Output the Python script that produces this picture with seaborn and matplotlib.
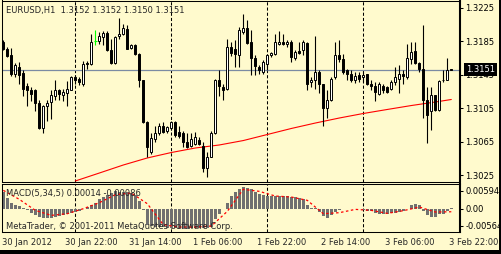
import matplotlib
matplotlib.use("Agg")
import matplotlib.pyplot as plt
import matplotlib.transforms as mtransforms
from matplotlib.patches import Rectangle
import numpy as np
import seaborn as sns

# ---------------- data ----------------
symbol_title = "EURUSD,H1  1.3152 1.3152 1.3150 1.3151"
macd_title = "MACD(5,34,5) 0.00014 -0.00086"
copyright_text = "MetaTrader, \u00a9 2001-2011 MetaQuotes Software Corp."

open_ = [1.3184, 1.3175, 1.3168, 1.3146, 1.3154, 1.3147, 1.3131, 1.3126, 1.3126, 1.3111,
         1.3081, 1.3107, 1.3112, 1.3119, 1.3126, 1.3121, 1.3123, 1.3127, 1.3142, 1.3140,
         1.3134, 1.3159, 1.3157, 1.3185, 1.3185, 1.3190, 1.3195, 1.3174, 1.3159, 1.3191,
         1.3194, 1.3199, 1.3177, 1.3180, 1.3170, 1.3139, 1.3088, 1.3052, 1.3068, 1.3075,
         1.3083, 1.3077, 1.3081, 1.3088, 1.3076, 1.3075, 1.3065, 1.3060, 1.3062, 1.3067,
         1.3060, 1.3033, 1.3047, 1.3075, 1.3139, 1.3130, 1.3128, 1.3178, 1.3176, 1.3168,
         1.3196, 1.3200, 1.3184, 1.3165, 1.3154, 1.3148, 1.3158, 1.3168, 1.3169, 1.3182,
         1.3184, 1.3181, 1.3184, 1.3165, 1.3173, 1.3174, 1.3183, 1.3136, 1.3138, 1.3148,
         1.3134, 1.3105, 1.3115, 1.3142, 1.3168, 1.3164, 1.3150, 1.3146, 1.3139, 1.3144,
         1.3142, 1.3146, 1.3134, 1.3131, 1.3122, 1.3131, 1.3130, 1.3128, 1.3136, 1.3140,
         1.3146, 1.3142, 1.3164, 1.3173, 1.3159, 1.3152, 1.3115, 1.3101, 1.3121, 1.3103,
         1.3139, 1.3139, 1.3152]
high = [1.3186, 1.3178, 1.3177, 1.3159, 1.3160, 1.3150, 1.3135, 1.3130, 1.3128, 1.3115,
        1.3109, 1.3115, 1.3126, 1.3138, 1.3128, 1.3128, 1.3137, 1.3143, 1.3144, 1.3142,
        1.3161, 1.3161, 1.3194, 1.3198, 1.3196, 1.3197, 1.3197, 1.3188, 1.3191, 1.3212,
        1.3205, 1.3204, 1.3182, 1.3182, 1.3171, 1.3139, 1.3089, 1.3075, 1.3084, 1.3087,
        1.3088, 1.3084, 1.3089, 1.3090, 1.3084, 1.3077, 1.3075, 1.3075, 1.3076, 1.3071,
        1.3065, 1.3053, 1.3077, 1.3140, 1.3150, 1.3134, 1.3188, 1.3184, 1.3186, 1.3202,
        1.3217, 1.3210, 1.3198, 1.3168, 1.3156, 1.3162, 1.3170, 1.3172, 1.3194, 1.3197,
        1.3194, 1.3186, 1.3186, 1.3174, 1.3184, 1.3186, 1.3184, 1.3142, 1.3191, 1.3150,
        1.3134, 1.3126, 1.3142, 1.3184, 1.3186, 1.3170, 1.3152, 1.3150, 1.3148, 1.3148,
        1.3148, 1.3146, 1.3138, 1.3136, 1.3136, 1.3134, 1.3131, 1.3138, 1.3154, 1.3156,
        1.3150, 1.3182, 1.3184, 1.3184, 1.3160, 1.3204, 1.3130, 1.3130, 1.3121, 1.3138,
        1.3150, 1.3165, 1.3152]
low = [1.3174, 1.3166, 1.3143, 1.3142, 1.3134, 1.3119, 1.3107, 1.3114, 1.3102, 1.3080,
       1.3075, 1.3090, 1.3092, 1.3115, 1.3115, 1.3113, 1.3107, 1.3126, 1.3134, 1.3132,
       1.3131, 1.3152, 1.3156, 1.3180, 1.3182, 1.3180, 1.3173, 1.3158, 1.3158, 1.3188,
       1.3192, 1.3175, 1.3175, 1.3168, 1.3130, 1.3087, 1.3047, 1.3050, 1.3064, 1.3073,
       1.3075, 1.3075, 1.3079, 1.3071, 1.3069, 1.3059, 1.3057, 1.3059, 1.3061, 1.3061,
       1.3029, 1.3023, 1.3046, 1.3074, 1.3119, 1.3115, 1.3127, 1.3167, 1.3154, 1.3154,
       1.3194, 1.3182, 1.3144, 1.3144, 1.3146, 1.3146, 1.3150, 1.3166, 1.3168, 1.3180,
       1.3180, 1.3178, 1.3160, 1.3162, 1.3170, 1.3168, 1.3126, 1.3130, 1.3128, 1.3123,
       1.3083, 1.3093, 1.3113, 1.3140, 1.3160, 1.3146, 1.3138, 1.3136, 1.3135, 1.3136,
       1.3136, 1.3132, 1.3126, 1.3113, 1.3121, 1.3123, 1.3123, 1.3126, 1.3132, 1.3123,
       1.3134, 1.3140, 1.3158, 1.3158, 1.3148, 1.3093, 1.3063, 1.3079, 1.3101, 1.3102,
       1.3136, 1.3138, 1.3150]
close = [1.3176, 1.3167, 1.3146, 1.3156, 1.3144, 1.3128, 1.3127, 1.3122, 1.3111, 1.3081,
         1.3107, 1.3111, 1.3120, 1.3126, 1.3122, 1.3124, 1.3128, 1.3142, 1.3138, 1.3136,
         1.3158, 1.3157, 1.3184, 1.3185, 1.3191, 1.3195, 1.3174, 1.3159, 1.3190, 1.3194,
         1.3200, 1.3176, 1.3180, 1.3170, 1.3139, 1.3088, 1.3059, 1.3069, 1.3075, 1.3083,
         1.3076, 1.3082, 1.3088, 1.3073, 1.3072, 1.3065, 1.3059, 1.3068, 1.3070, 1.3062,
         1.3033, 1.3047, 1.3075, 1.3139, 1.3131, 1.3126, 1.3178, 1.3171, 1.3170, 1.3198,
         1.3201, 1.3183, 1.3165, 1.3155, 1.3150, 1.3160, 1.3168, 1.3171, 1.3184, 1.3184,
         1.3182, 1.3184, 1.3166, 1.3172, 1.3171, 1.3184, 1.3134, 1.3139, 1.3148, 1.3134,
         1.3105, 1.3115, 1.3140, 1.3168, 1.3164, 1.3148, 1.3146, 1.3138, 1.3143, 1.3140,
         1.3144, 1.3134, 1.3131, 1.3124, 1.3134, 1.3126, 1.3124, 1.3136, 1.3142, 1.3146,
         1.3143, 1.3165, 1.3172, 1.3159, 1.3152, 1.3115, 1.3097, 1.3121, 1.3103, 1.3137,
         1.3138, 1.3150, 1.3151]

ma_bars = [18, 24, 30, 36, 42, 48, 54, 60, 66, 72, 78, 84, 90, 96, 102, 108, 112]
ma_values = [1.30179, 1.30274, 1.30370, 1.30454, 1.30519, 1.30573, 1.30609, 1.30662,
             1.30734, 1.30806, 1.30871, 1.30931, 1.30985, 1.31033, 1.31080, 1.31122, 1.31152]

macd_hist = [0.00467, 0.00299, 0.00168, 0.00112, 0.00075, 0.00028, -0.00047, -0.00112, -0.00168, -0.00234,
             -0.00262, -0.00262, -0.00252, -0.00224, -0.00206, -0.00187, -0.00159, -0.00121, -0.00093, -0.00056,
             -0.00019, 0.00047, 0.00112, 0.00168, 0.00262, 0.00327, 0.00392, 0.00448, 0.00486, 0.00467,
             0.00458, 0.00467, 0.00448, 0.00374, 0.00206, -0.00047, -0.00448, -0.00486, -0.00504, -0.00514,
             -0.00523, -0.00533, -0.00540, -0.00550, -0.00556, -0.00564, -0.00560, -0.00552, -0.00545, -0.00538,
             -0.00530, -0.00530, -0.00500, -0.00299, -0.00140, -0.00019, 0.00168, 0.00355, 0.00467, 0.00560,
             0.00594, 0.00590, 0.00542, 0.00467, 0.00420, 0.00392, 0.00355, 0.00355, 0.00355, 0.00355,
             0.00355, 0.00345, 0.00327, 0.00327, 0.00299, 0.00262, 0.00112, 0.00028, 0.00008, -0.00093,
             -0.00205, -0.00262, -0.00187, -0.00093, -0.00047, -0.00010, -0.00019, -0.00019, -0.00019, -0.00019,
             -0.00037, -0.00056, -0.00075, -0.00112, -0.00140, -0.00149, -0.00149, -0.00131, -0.00112, -0.00093,
             -0.00056, 0.00005, 0.00093, 0.00131, 0.00093, -0.00075, -0.00187, -0.00224, -0.00224, -0.00140,
             -0.00140, -0.00075, 0.00014]
signal_bars = [0, 4, 8, 12, 16, 20, 24, 28, 32, 36, 40, 44, 48, 52, 56, 60, 64, 68, 72, 76,
               80, 84, 88, 92, 96, 100, 104, 108, 112]
signal_values = [0.00514, 0.00262, -0.00047, -0.00187, -0.00140, 0.00000, 0.00168, 0.00392, 0.00439, 0.00140,
                 -0.00448, -0.00514, -0.00514, -0.00486, -0.00075, 0.00542, 0.00486, 0.00355, 0.00327, 0.00234,
                 -0.00140, -0.00112, -0.00019, -0.00047, -0.00131, -0.00056, 0.00047, -0.00093, -0.00086]

price_ticks = [1.3225, 1.3185, 1.3145, 1.3105, 1.3065, 1.3025]
price_tick_labels = ["1.3225", "1.3185", "1.3145", "1.3105", "1.3065", "1.3025"]
bid_price = 1.3151
bid_label = "1.3151"
macd_tick_labels = ["0.00594", "0.00", "-0.00564"]
time_tick_bars = [0, 16, 32, 48, 64, 80, 96, 112]
time_tick_labels = ["30 Jan 2012", "30 Jan 22:00", "31 Jan 14:00", "1 Feb 06:00",
                    "1 Feb 22:00", "2 Feb 14:00", "3 Feb 06:00", "3 Feb 22:00"]
separator_bars = [18, 42, 66, 90]

# ---------------- style ----------------
sns.set_style("white")
plt.rcParams["font.family"] = ["DejaVu Sans"]
BG = "#FFFACD"
W, H = 502, 254
FS = 6

fig = plt.figure(figsize=(W / 100, H / 100), dpi=100, facecolor=BG)


def box(l, t, r, b):
    return [l / W, 1 - b / H, (r - l) / W, (b - t) / H]


ax = fig.add_axes(box(2, 0.5, 460, 181.5))
axm = fig.add_axes(box(2, 183.5, 460, 232))
for a in (ax, axm):
    a.set_facecolor(BG)
    a.set_xlim(-0.325, 114.175)
    for s in a.spines.values():
        s.set_color("black")
        s.set_linewidth(0.75)
    a.spines["right"].set_linewidth(1.5)
    for k in separator_bars:
        a.axvline(k, color="black", lw=0.75, ls=(0, (3, 2)), zorder=1)

# ---------------- candles ----------------
o = np.array(open_)
h = np.array(high)
l = np.array(low)
c = np.array(close)
x = np.arange(len(c))
up = c > o
dj = c == o
wick_col = np.where(dj, "#00FF00", "black")
ax.vlines(x, l, h, colors=wick_col, lw=0.8, zorder=3)
body_lo = np.minimum(o, c)
body_h = np.maximum(np.abs(c - o), 0.00002)
face = np.where(up, "white", "black")
nd = ~dj
ax.bar(x[nd], body_h[nd], bottom=body_lo[nd], width=0.5, color=face[nd],
       edgecolor="black", linewidth=0.7, zorder=4)
ax.hlines(o[dj], x[dj] - 0.4, x[dj] + 0.4, colors="#00FF00", lw=0.8, zorder=4)

sns.lineplot(x=ma_bars, y=ma_values, ax=ax, color="#FF0000", lw=0.8, zorder=2)
ax.axhline(bid_price, color="#7B8BA3", lw=0.9, zorder=1.5)

ax.set_ylim(1.30173, 1.32334)
ax.yaxis.tick_right()
ax.set_yticks(price_ticks, price_tick_labels)
ax.set_xticks([])
ax.tick_params(axis="y", direction="out", length=2.5, width=0.75, pad=1.5,
               labelsize=FS, colors="black")
ax.set_xlabel("")
ax.set_ylabel("")

trans = mtransforms.blended_transform_factory(ax.transAxes, ax.transData)
ax.text((466 - 2) / 458, bid_price, bid_label, transform=trans, ha="left", va="center",
        color="white", fontsize=FS,
        bbox=dict(boxstyle="square,pad=0.25", fc="black", ec="black", lw=0),
        clip_on=False, zorder=10)

# ---------------- MACD ----------------
axm.bar(x, macd_hist, width=0.72, color="#707070", linewidth=0, zorder=2)
sns.lineplot(x=signal_bars, y=signal_values, ax=axm, color="#FF0000", lw=0.9,
             linestyle=(0, (2, 2)), zorder=3)
axm.set_ylim(-0.00653, 0.00706)
axm.yaxis.tick_right()
macd_scale = 3570.0
axm.set_yticks([18.0 / macd_scale, 0.0, -17.3 / macd_scale], macd_tick_labels)
axm.set_xticks(time_tick_bars, [""] * len(time_tick_bars))
axm.tick_params(axis="y", direction="out", length=2.5, width=0.75, pad=1.5,
                labelsize=FS, colors="black")
axm.tick_params(axis="x", direction="out", length=3, width=0.75)
axm.set_xlabel("")
axm.set_ylabel("")

tx = mtransforms.blended_transform_factory(axm.transData, fig.transFigure)
for k, lab in zip(time_tick_bars, time_tick_labels):
    axm.text(k - 0.45, 1 - 242.7 / H, lab, transform=tx, ha="left", va="center",
             fontsize=FS, clip_on=False)

fig.text(6.5 / W, 1 - 10.7 / H, symbol_title, fontsize=FS, va="center", ha="left")
fig.text(6.5 / W, 1 - 193.7 / H, macd_title, fontsize=FS, va="center", ha="left")
fig.text(6.0 / W, 1 - 226.3 / H, copyright_text, fontsize=FS, va="center", ha="left")

fig.patches.append(Rectangle((499.4 / W, 0), 2.6 / W, 1, transform=fig.transFigure,
                             facecolor="black", edgecolor="none", zorder=20))
fig.patches.append(Rectangle((0, 0), 1, 3.7 / H, transform=fig.transFigure,
                             facecolor="black", edgecolor="none", zorder=20))

fig.savefig("out.png", dpi=100, facecolor=BG)
